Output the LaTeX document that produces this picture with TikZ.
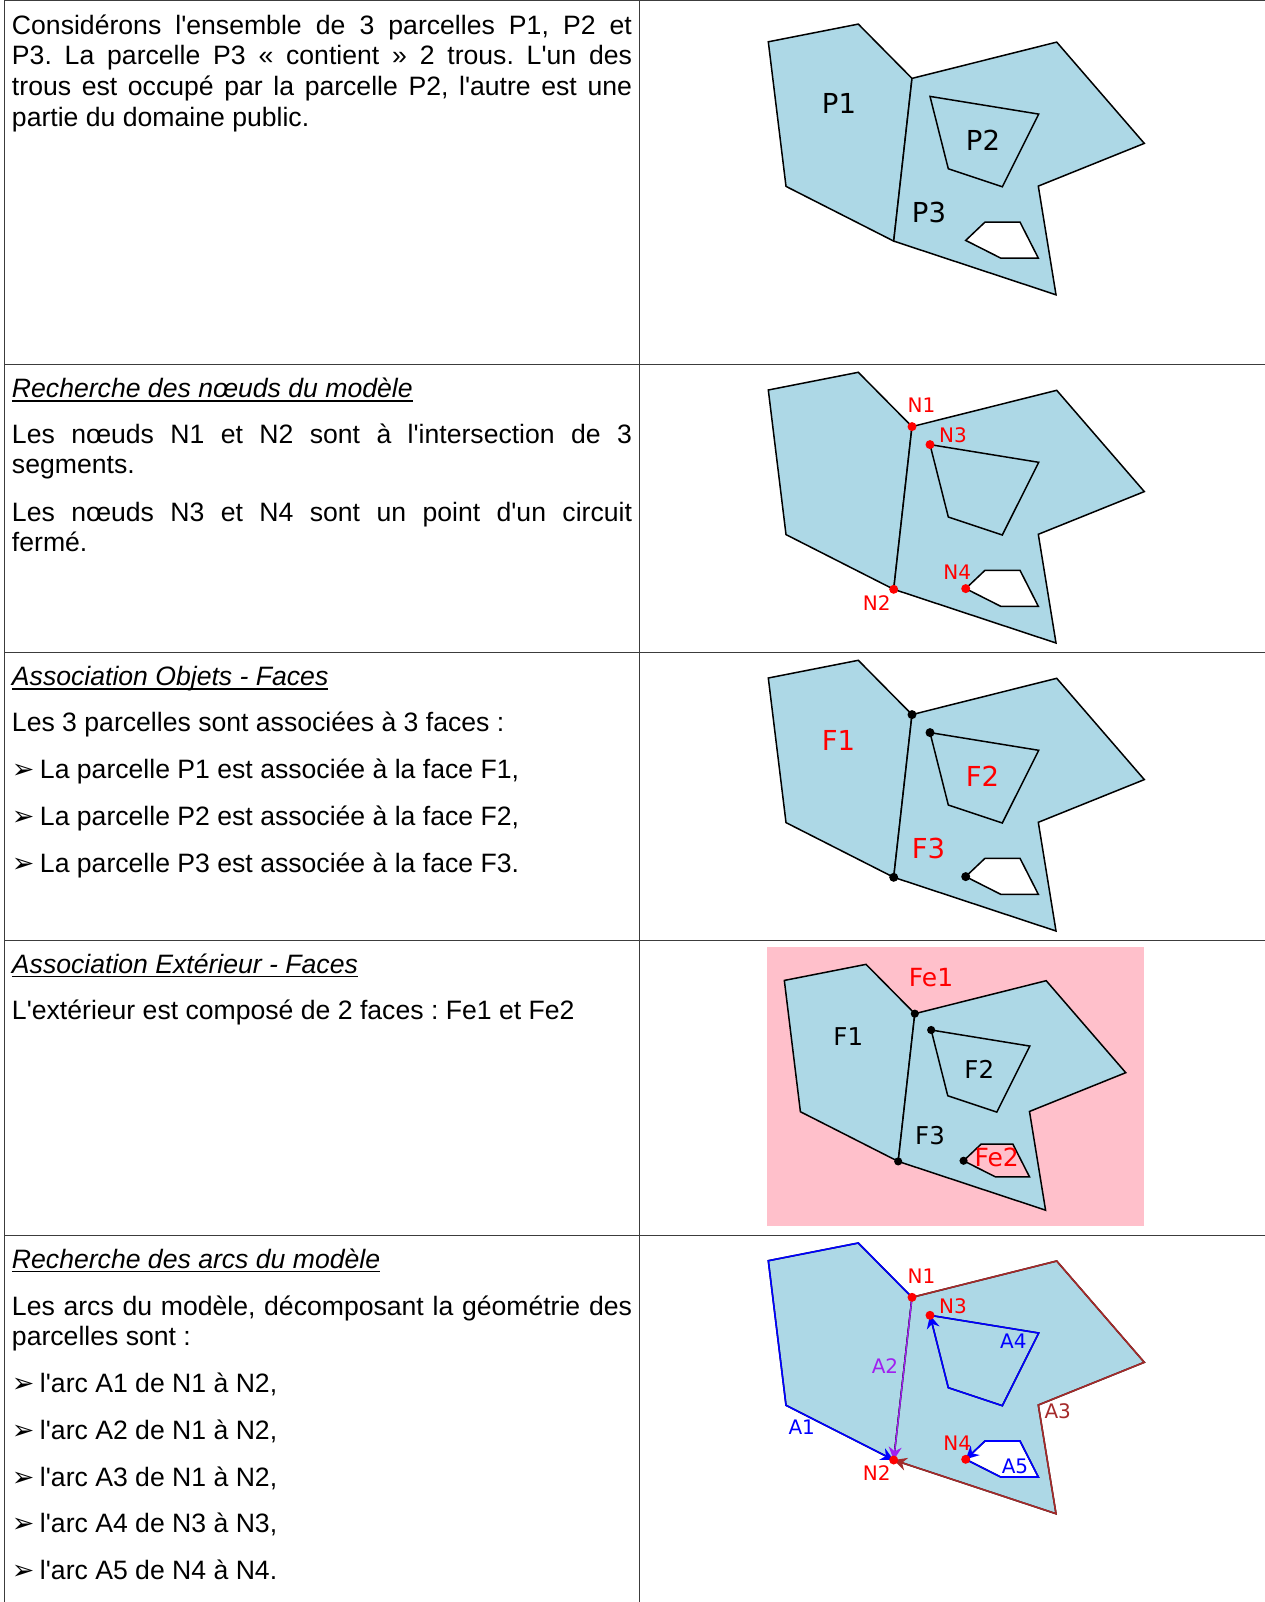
\documentclass[tikz,border=0pt]{standalone}
\usepackage{fontspec}
\usetikzlibrary{arrows.meta}
\newfontfamily\lib{Liberation Sans}
\newfontfamily\dvf{DejaVu Sans}
\definecolor{lb}{HTML}{ADD8E6}
\definecolor{pk}{HTML}{FFC0CB}
\definecolor{pur}{HTML}{A020F0}
\definecolor{brn}{HTML}{A52A2A}
\definecolor{rule}{HTML}{3C3C3C}
\newcommand\myul[1]{\leavevmode\setbox0=\hbox{#1}\rlap{\vrule width\wd0 height -3pt depth 4.4pt}\box0\relax}
\newcommand\bul{\hbox to 28pt{\dvf\fontsize{27}{20}\selectfont ➢\hfil}}
\newcommand\PlanPts{%
  \coordinate (a) at (768.3,1260.7);\coordinate (b) at (858.3,1243);
  \coordinate (N1) at (912,1297.3);\coordinate (c) at (1056.7,1261);
  \coordinate (d) at (1144.3,1362.3);\coordinate (e) at (1038.3,1405);
  \coordinate (f) at (1056,1513.7);\coordinate (N2) at (893.7,1460);
  \coordinate (g) at (786,1405.3);
  \coordinate (N3) at (930,1315.3);\coordinate (h) at (1038.7,1333);
  \coordinate (i) at (1002.3,1405.7);\coordinate (j) at (948.3,1387.7);
  \coordinate (N4) at (965.7,1459.3);\coordinate (k) at (985,1441);
  \coordinate (l) at (1020,1441);\coordinate (m) at (1038.3,1477);
  \coordinate (n) at (1000.7,1477);}
\newcommand\PlanShape[1]{%
  \PlanPts
  \path[parcel] (N1)--(b)--(a)--(g)--(N2)--cycle;
  \path[parcel] (N1)--(c)--(d)--(e)--(f)--(N2)--cycle;
  \path[parcel] (N3)--(h)--(i)--(j)--cycle;
  \path[parcel,fill=#1] (N4)--(k)--(l)--(m)--(n)--cycle;}
\newcommand\PlanDots[1]{%
  \foreach \p in {N1,N2,N3,N4} \fill[#1] (\p) circle [radius=4.5];}
\tikzset{
  parcel/.style={fill=lb,draw=black,line width=1.5pt,line join=miter},
  grid/.style={draw=rule,line width=1pt},
  txt/.style={anchor=base west,inner sep=0pt,outer sep=0pt,font=\lib\frenchspacing\fontsize{26.6}{30.6}\selectfont},
  just/.style={txt,text width=620pt,align=justify},
  plab/.style={inner sep=0pt,font=\dvf\fontsize{27.5}{27}\selectfont},
  flab/.style={inner sep=0pt,font=\dvf\fontsize{24.5}{24}\selectfont},
  elab/.style={inner sep=0pt,text=red,font=\dvf\fontsize{25}{25}\selectfont},
  nlab/.style={inner sep=0pt,text=red,font=\dvf\fontsize{20}{20}\selectfont},
  alab/.style={inner sep=0pt,font=\dvf\fontsize{20}{20}\selectfont},
  arc/.style={line width=1.6pt,line join=miter,-{Stealth[length=13pt,width=13pt]}},
}
\begin{document}
\begin{tikzpicture}[x=1pt,y=-1pt]
\useasboundingbox (0,0) rectangle (1265,1602);
\fill[white] (0,0) rectangle (1265,1602);
% table
\coordinate (TL) at (4,1);\coordinate (TM) at (639.5,1);\coordinate (TR) at (1265,1);
\coordinate (BL) at (4,1602);\coordinate (BM) at (639.5,1602);
\draw[grid] (TL)--(BL) (TM)--(BM) (TL)--(TR);
\foreach \y in {364.5,652,940,1235} \draw[grid] (4,\y)--(1265,\y);
% row 1
\node[just] (t1) at (12,34.4) {Considérons l'ensemble de 3 parcelles P1, P2 et\linebreak P3. La parcelle P3 « contient » 2 trous. L'un des\linebreak trous est occupé par la parcelle P2, l'autre est une\linebreak partie du domaine public.};
\begin{scope}[shift={(0,-1218.9)}]\PlanShape{white}\end{scope}
\node[plab] (p1) at (839,103) {P1};
\node[plab] (p2) at (983,140) {P2};
\node[plab] (p3) at (929,212.5) {P3};
% row 2
\node[txt] (h2) at (12,397.2) {\myul{\itshape Recherche des nœuds du modèle}};
\node[just] (t2a) at (12,443.3) {Les nœuds N1 et N2 sont à l'intersection de 3\linebreak segments.};
\node[just] (t2b) at (12,521.3) {Les nœuds N3 et N4 sont un point d'un circuit\linebreak fermé.};
\begin{scope}[shift={(0,-870.7)}]\PlanShape{white}\PlanDots{red}\end{scope}
\node[nlab] (n1a) at (921.5,405.3) {N1};
\node[nlab] (n3a) at (953,435.3) {N3};
\node[nlab] (n4a) at (957.3,572.3) {N4};
\node[nlab] (n2a) at (876.7,602.6) {N2};
% row 3
\node[txt] (h3) at (12,685.2) {\myul{\itshape Association Objets - Faces}};
\node[txt] (t3a) at (12,731) {Les 3 parcelles sont associées à 3 faces :};
\node[txt] (t3b) at (12,778) {\bul La parcelle P1 est associée à la face F1,};
\node[txt] (t3c) at (12,825) {\bul La parcelle P2 est associée à la face F2,};
\node[txt] (t3d) at (12,872) {\bul La parcelle P3 est associée à la face F3.};
\begin{scope}[shift={(0,-582.7)}]\PlanShape{white}\PlanDots{black}\end{scope}
\node[plab,text=red] (f1a) at (838.5,740) {F1};
\node[plab,text=red] (f2a) at (982.5,776.5) {F2};
\node[plab,text=red] (f3a) at (928.5,848) {F3};
% row 4
\node[txt] (h4) at (12,973) {\myul{\itshape Association Extérieur - Faces}};
\node[txt] (t4) at (12,1019) {L'extérieur est composé de 2 faces : Fe1 et Fe2};
\fill[pk] (767,947) rectangle (1144.3,1226);
\begin{scope}[shift={(86.7,-164.3)},scale=.908]\PlanShape{pk}\PlanDots{black}\end{scope}
\node[flab] (f1b) at (848.3,1037) {F1};
\node[flab] (f2b) at (979.3,1069.6) {F2};
\node[flab] (f3b) at (930,1135.3) {F3};
\node[elab] (fe1) at (931,977.2) {Fe1};
\node[elab] (fe2) at (996.7,1157.6) {Fe2};
% row 5
\node[txt] (h5) at (12,1268) {\myul{\itshape Recherche des arcs du modèle}};
\node[just] (t5) at (12,1315) {Les arcs du modèle, décomposant la géométrie des\linebreak parcelles sont :};
\node[txt] (t5a) at (12,1392) {\bul l'arc A1 de N1 à N2,};
\node[txt] (t5b) at (12,1439) {\bul l'arc A2 de N1 à N2,};
\node[txt] (t5c) at (12,1486) {\bul l'arc A3 de N1 à N2,};
\node[txt] (t5d) at (12,1532.5) {\bul l'arc A4 de N3 à N3,};
\node[txt] (t5e) at (12,1579.5) {\bul l'arc A5 de N4 à N4.};
\PlanShape{white}
\draw[arc,blue] (N1)--(b)--(a)--(g)--(N2);
\draw[arc,pur,line width=1.4pt] (N1)--(N2);
\draw[arc,brn] (N1)--(c)--(d)--(e)--(f)--(N2);
\draw[arc,blue] (N3)--(h)--(i)--(j)--(N3);
\draw[arc,blue] (N4)--(n)--(m)--(l)--(k)--(N4);
\PlanDots{red}
\node[nlab] (n1b) at (921.5,1276) {N1};
\node[nlab] (n3b) at (953,1306) {N3};
\node[nlab] (n4b) at (957.3,1443) {N4};
\node[nlab] (n2b) at (876.7,1473.3) {N2};
\node[alab,text=blue] (a1) at (801.7,1427.3) {A1};
\node[alab,text=pur] (a2) at (885,1365.7) {A2};
\node[alab,text=brn] (a3) at (1057.7,1411.7) {A3};
\node[alab,text=blue] (a4) at (1013.3,1340.7) {A4};
\node[alab,text=blue] (a5) at (1015,1466) {A5};
\end{tikzpicture}
\end{document}
